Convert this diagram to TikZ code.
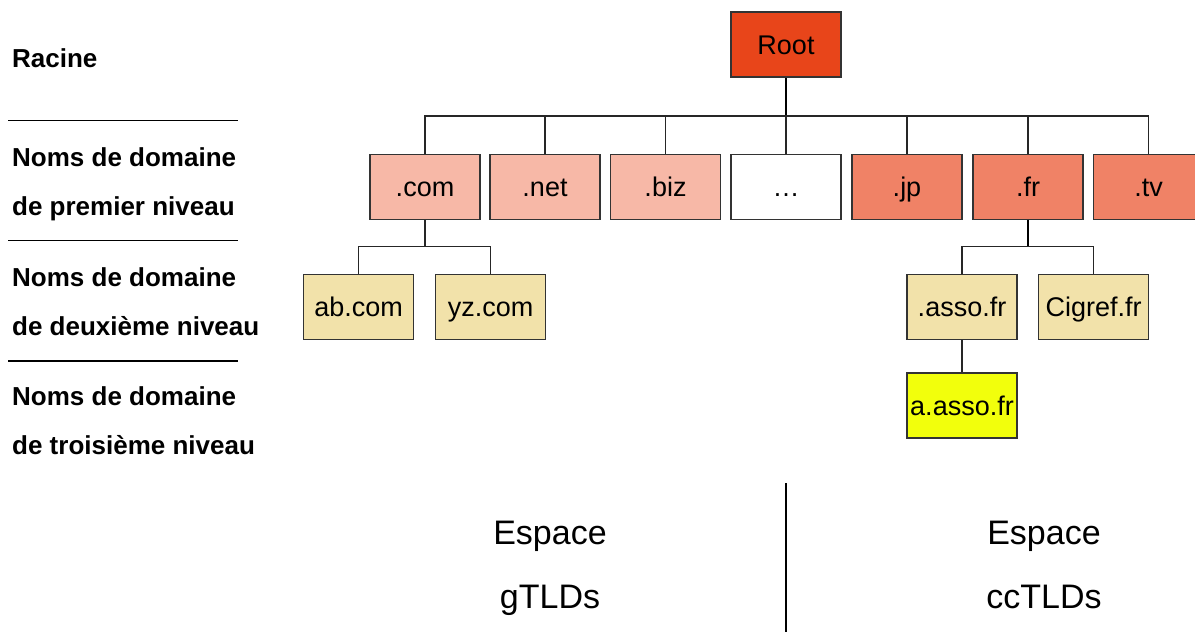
\documentclass[tikz,border=0pt]{standalone}
\usepackage{fontspec}
\setmainfont{Liberation Sans}
\definecolor{rootfill}{HTML}{E8451A}
\definecolor{gfill}{HTML}{F7B8A7}
\definecolor{ccfill}{HTML}{F08266}
\definecolor{sldfill}{HTML}{F2E2AA}
\definecolor{thirdfill}{HTML}{F2FF0C}
\begin{document}
\begin{tikzpicture}[x=1pt,y=-1pt,
  dom/.style={draw=black!80,line width=1.5pt,minimum width=110pt,minimum height=65pt,inner sep=0pt,text height=19.5pt,text depth=0pt,font=\fontsize{27}{32}\selectfont},
  lvl/.style={anchor=west,align=left,inner sep=0pt,font=\bfseries\fontsize{26}{49}\selectfont},
  space/.style={align=center,inner sep=0pt,font=\fontsize{34}{64}\selectfont},
  link/.style={draw=black!85,line width=1.5pt},
  trunk/.style={draw=black,line width=2.5pt}]
\useasboundingbox (0,0) rectangle (1195,632);
% level names
\node[lvl] (racine) at (12,58) {Racine};
\node[lvl] (tld) at (12,184) {Noms de domaine\\de premier niveau};
\node[lvl] (sld) at (12,301.5) {Noms de domaine\\de deuxième niveau};
\node[lvl] (third) at (12,421) {Noms de domaine\\de troisième niveau};
\draw[line width=1.2pt] (8,120.5) -- (238,120.5);
\draw[line width=1.2pt] (8,240.5) -- (238,240.5);
\draw[line width=1.2pt] (8,361) -- (238,361);
% tree
\node[dom,fill=rootfill] (root) at (786,44.5) {Root};
\node[dom,fill=gfill] (com) at (425,187) {.com};
\node[dom,fill=gfill] (net) at (545,187) {.net};
\node[dom,fill=gfill] (biz) at (665.5,187) {.biz};
\node[dom,fill=white] (dots) at (786,187) {…};
\node[dom,fill=ccfill] (jp) at (907,187) {.jp};
\node[dom,fill=ccfill] (fr) at (1028,187) {.fr};
\node[dom,fill=ccfill] (tv) at (1148.5,187) {.tv};
\node[dom,fill=sldfill] (ab) at (358.7,307) {ab.com};
\node[dom,fill=sldfill] (yz) at (490.7,307) {yz.com};
\node[dom,fill=sldfill] (asso) at (962,307) {.asso.fr};
\node[dom,fill=sldfill] (cigref) at (1093.7,307) {Cigref.fr};
\node[dom,fill=thirdfill] (aasso) at (962,405.3) {a.asso.fr};
\coordinate (rootbar) at (786,116);
\coordinate (combar) at (425,246.5);
\coordinate (frbar) at (1028,246.5);
\draw[trunk] (root.south) -- (rootbar);
\foreach \n in {com,net,biz,dots,jp,fr,tv}
  \draw[link] (rootbar) -| (\n.north);
\draw[link] (com.south) -- (combar);
\foreach \n in {ab,yz}
  \draw[link] (combar) -| (\n.north);
\draw[trunk] (fr.south) -- (frbar);
\foreach \n in {asso,cigref}
  \draw[link] (frbar) -| (\n.north);
\draw[link] (asso.south) -- (aasso.north);
% spaces
\node[space] (gspace) at (550,568.5) {Espace\\gTLDs};
\node[space] (ccspace) at (1044,565) {Espace\\ccTLDs};
\coordinate (splittop) at (786,483);
\coordinate (splitbot) at (786,632);
\draw[line width=1.5pt] (splittop) -- (splitbot);
\end{tikzpicture}
\end{document}
